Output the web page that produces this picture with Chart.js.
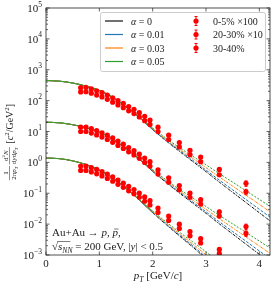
<!DOCTYPE html>
<html>
<head>
<meta charset="utf-8">
<script src="https://cdn.jsdelivr.net/npm/chart.js@4"></script>
<style>
  html, body { margin: 0; padding: 0; background: #fff; }
</style>
</head>
<body>
<canvas id="c" width="274" height="287"></canvas>
<script>
// Curvas del modelo (pT en GeV/c)
const ptGrid = [0, 0.25, 0.5, 0.75, 1, 1.25, 1.5, 1.75, 2, 2.25, 2.5, 2.75, 3, 3.25, 3.5, 3.75, 4, 4.25];

// 0-5% x100
const c05a0 = [447, 427, 372, 295, 214, 129, 63.1, 28.2, 11.5, 5.01, 2.29, 1.07, 0.501, 0.229, 0.107, 0.0501, 0.0234, 0.0110];
const c05a1 = [447, 427, 372, 295, 214, 129, 63.1, 28.2, 11.7, 5.25, 2.45, 1.17, 0.562, 0.266, 0.129, 0.0624, 0.0302, 0.0146];
const c05a3 = [447, 427, 372, 295, 214, 129, 63.1, 28.8, 12.3, 5.62, 2.69, 1.35, 0.676, 0.335, 0.170, 0.0861, 0.0437, 0.0219];
const c05a5 = [447, 427, 372, 295, 214, 129, 63.1, 29.2, 12.9, 6.10, 3.02, 1.58, 0.832, 0.432, 0.229, 0.120, 0.0631, 0.0331];

// 20-30% x10
const c2030a0 = [20.0, 19.1, 16.6, 13.2, 9.55, 5.75, 2.82, 1.26, 0.513, 0.224, 0.102, 0.0479, 0.0224, 0.0102, 0.00479, 0.00224, 0.00105, 0.00049];
const c2030a1 = [20.0, 19.1, 16.6, 13.2, 9.55, 5.75, 2.82, 1.26, 0.525, 0.234, 0.110, 0.0525, 0.0251, 0.0119, 0.00575, 0.00279, 0.00135, 0.000653];
const c2030a3 = [20.0, 19.1, 16.6, 13.2, 9.55, 5.75, 2.82, 1.29, 0.550, 0.251, 0.120, 0.0603, 0.0302, 0.0150, 0.00759, 0.00385, 0.00195, 0.000977];
const c2030a5 = [20.0, 19.1, 16.6, 13.2, 9.55, 5.75, 2.82, 1.30, 0.575, 0.272, 0.135, 0.0708, 0.0372, 0.0193, 0.0102, 0.00537, 0.00282, 0.00148];

// 30-40%
const c3040a0 = [1.38, 1.32, 1.12, 0.851, 0.562, 0.316, 0.145, 0.0603, 0.0234, 0.00977, 0.00417, 0.00182, 0.000759, 0.000331];
const c3040a1 = [1.38, 1.32, 1.12, 0.851, 0.562, 0.316, 0.145, 0.0603, 0.0240, 0.0102, 0.00447, 0.00200, 0.000851, 0.000385];
const c3040a3 = [1.38, 1.32, 1.12, 0.851, 0.562, 0.316, 0.145, 0.0617, 0.0251, 0.0110, 0.00490, 0.00229, 0.00102, 0.000484];
const c3040a5 = [1.38, 1.32, 1.12, 0.851, 0.562, 0.316, 0.145, 0.0624, 0.0263, 0.0119, 0.00550, 0.00269, 0.00126, 0.000624];

// Datos experimentales (p y pbar)
const ptData = [0.65, 0.75, 0.85, 0.95, 1.05, 1.15, 1.25, 1.35, 1.45, 1.55, 1.65, 1.75, 1.85, 1.95, 2.1, 2.3, 2.5, 2.7, 2.9, 3.25, 3.75];
const p05 = [263, 269, 240, 209, 182, 151, 123, 100, 81.3, 64.6, 52.5, 40.7, 30.9, 23.4, 13.8, 7.59, 4.37, 2.45, 1.48, 0.589, 0.209];
const pbar05 = [191, 195, 174, 151, 132, 110, 89.1, 72.4, 58.9, 46.8, 38.0, 29.5, 22.4, 17.0, 10.0, 5.50, 3.16, 1.78, 1.05, 0.398, 0.112];
const p2030 = [13.8, 13.8, 12.3, 10.7, 9.12, 7.59, 6.17, 4.90, 3.89, 3.02, 2.40, 1.86, 1.38, 1.05, 0.575, 0.316, 0.178, 0.102, 0.0617, 0.0251, 0.00832];
const pbar2030 = [10.0, 10.0, 8.91, 7.76, 6.61, 5.50, 4.47, 3.55, 2.82, 2.19, 1.74, 1.35, 1.00, 0.759, 0.417, 0.229, 0.129, 0.0741, 0.0447, 0.0182, 0.00501];
const p3040 = [0.759, 0.759, 0.676, 0.589, 0.501, 0.417, 0.339, 0.269, 0.214, 0.166, 0.132, 0.102, 0.0759, 0.0575, 0.0331, 0.0182, 0.0100, 0.00575, 0.00339, 0.00151, null];
const pbar3040 = [0.550, 0.550, 0.490, 0.427, 0.363, 0.302, 0.245, 0.195, 0.155, 0.120, 0.0955, 0.0741, 0.0550, 0.0417, 0.0240, 0.0132, 0.00724, 0.00417, 0.00245, 0.00110, null];
const relErr = [0.05, 0.05, 0.05, 0.05, 0.05, 0.05, 0.05, 0.05, 0.05, 0.05, 0.05, 0.05, 0.06, 0.06, 0.07, 0.08, 0.08, 0.09, 0.10, 0.12, 0.20];

// Ejes
const xTicks = [0, 1, 2, 3, 4];
const yDecades = [-3, -2, -1, 0, 1, 2, 3, 4, 5];

const alphaLabels = ['0', '0.01', '0.03', '0.05'];
const alphaColors = ['#111111', '#1f77b4', '#ff7f0e', '#2ca02c'];
const alphaDash = [[3, 1, 1, 1], [3, 1.5], [3, 1, 1, 1], [2, 1.5]];
const fitMax = 2.0;
const dataLabels = ['0-5% \u00d7100', '20-30% \u00d710', '30-40%'];

const serif = '"Liberation Serif", "DejaVu Serif", serif';
const ink = '#222';

const curveGroups = [
  [c05a0, c05a1, c05a3, c05a5],
  [c2030a0, c2030a1, c2030a3, c2030a5],
  [c3040a0, c3040a1, c3040a3, c3040a5]
];

const datasets = [];
curveGroups.forEach(group => {
  group.forEach((arr, k) => {
    datasets.push({
      type: 'line',
      data: arr.map((v, i) => ({ x: ptGrid[i], y: v })),
      borderColor: alphaColors[k],
      borderWidth: 1,
      pointRadius: 0,
      fill: false,
      cubicInterpolationMode: 'monotone',
      segment: { borderDash: c => (c.p0.parsed.x >= fitMax ? alphaDash[k] : undefined) },
      order: 4 - k
    });
  });
});
[p05, pbar05, p2030, pbar2030, p3040, pbar3040].forEach(arr => {
  datasets.push({
    type: 'scatter',
    data: arr.map((v, i) => ({ x: ptData[i], y: v })),
    err: relErr,
    backgroundColor: 'red',
    borderWidth: 0,
    pointRadius: 2.6,
    order: 0
  });
});

// Texto con cursiva / subíndices / superíndices
function runs(ctx, items, x, y, size, draw = true) {
  let cx = x;
  for (const it of items) {
    let fs = size, dy = 0;
    const st = (it.f === 'i' || it.f === 'sub') ? 'italic ' : '';
    if (it.f === 'sub') { fs = size * 0.7; dy = size * 0.25; }
    if (it.f === 'sup') { fs = size * 0.7; dy = -size * 0.4; }
    ctx.font = st + fs + 'px ' + serif;
    if (draw) ctx.fillText(it.t, cx, y + dy);
    cx += ctx.measureText(it.t).width;
  }
  return cx - x;
}

function fraction(ctx, num, den, x, size) {
  const wn = runs(ctx, num, 0, 0, size, false);
  const wd = runs(ctx, den, 0, 0, size, false);
  const w = Math.max(wn, wd) + 1;
  runs(ctx, num, x + (w - wn) / 2, -1.3, size);
  runs(ctx, den, x + (w - wd) / 2, size * 0.72 + 1.3, size);
  ctx.lineWidth = 0.5;
  ctx.beginPath(); ctx.moveTo(x, 0); ctx.lineTo(x + w, 0); ctx.stroke();
  return w;
}

const decor = {
  id: 'decor',
  afterDatasetsDraw(chart) {
    const { ctx, chartArea: a, scales: { y } } = chart;
    ctx.save();
    ctx.beginPath(); ctx.rect(a.left, a.top, a.right - a.left, a.bottom - a.top); ctx.clip();
    ctx.strokeStyle = 'red'; ctx.lineWidth = 1;
    chart.data.datasets.forEach((ds, i) => {
      if (!ds.err) return;
      const meta = chart.getDatasetMeta(i);
      meta.data.forEach((pt, j) => {
        const v = ds.data[j].y;
        if (v == null) return;
        const y1 = y.getPixelForValue(v * (1 + ds.err[j]));
        const y2 = y.getPixelForValue(v * (1 - ds.err[j]));
        ctx.beginPath();
        ctx.moveTo(pt.x, y1); ctx.lineTo(pt.x, y2);
        ctx.moveTo(pt.x - 1.5, y1); ctx.lineTo(pt.x + 1.5, y1);
        ctx.moveTo(pt.x - 1.5, y2); ctx.lineTo(pt.x + 1.5, y2);
        ctx.stroke();
      });
    });
    ctx.restore();
  },
  afterDraw(chart) {
    const { ctx, chartArea: a, scales: { x, y } } = chart;
    ctx.save();
    ctx.fillStyle = ink; ctx.strokeStyle = ink;

    // marco
    ctx.lineWidth = 0.8;
    ctx.strokeRect(a.left, a.top, a.right - a.left, a.bottom - a.top);

    // marcas hacia dentro
    ctx.lineWidth = 0.7;
    ctx.beginPath();
    xTicks.forEach(v => {
      const px = x.getPixelForValue(v);
      ctx.moveTo(px, a.bottom); ctx.lineTo(px, a.bottom - 3.5);
      ctx.moveTo(px, a.top); ctx.lineTo(px, a.top + 3.5);
    });
    yDecades.forEach(k => {
      const py = y.getPixelForValue(Math.pow(10, k));
      ctx.moveTo(a.left, py); ctx.lineTo(a.left + 3.5, py);
      ctx.moveTo(a.right, py); ctx.lineTo(a.right - 3.5, py);
      if (k < 5) {
        for (let m = 2; m < 10; m++) {
          const pm = y.getPixelForValue(m * Math.pow(10, k));
          ctx.moveTo(a.left, pm); ctx.lineTo(a.left + 2, pm);
          ctx.moveTo(a.right, pm); ctx.lineTo(a.right - 2, pm);
        }
      }
    });
    ctx.stroke();

    // etiquetas de los ejes
    ctx.textAlign = 'left';
    yDecades.forEach(k => {
      const py = y.getPixelForValue(Math.pow(10, k));
      const exp = k < 0 ? '\u2212' + (-k) : String(k);
      ctx.font = '7.5px ' + serif;
      const we = ctx.measureText(exp).width;
      ctx.font = '11px ' + serif;
      const wb = ctx.measureText('10').width;
      const x0 = a.left - 4 - we - wb;
      ctx.fillText('10', x0, py + 4);
      ctx.font = '7.5px ' + serif;
      ctx.fillText(exp, x0 + wb, py - 1.5);
    });
    ctx.font = '11px ' + serif;
    ctx.textAlign = 'center';
    xTicks.forEach(v => ctx.fillText(String(v), x.getPixelForValue(v), a.bottom + 12));
    ctx.textAlign = 'left';

    // titulo eje x
    const xt = [{ t: 'p', f: 'i' }, { t: 'T', f: 'sub' }, { t: ' [GeV/', f: 'n' }, { t: 'c', f: 'i' }, { t: ']', f: 'n' }];
    const wxt = runs(ctx, xt, 0, 0, 11, false);
    runs(ctx, xt, (a.left + a.right) / 2 - wxt / 2, 279, 11);

    // titulo eje y (girado)
    ctx.save();
    ctx.translate(9.5, 142);
    ctx.rotate(-Math.PI / 2);
    const fs = 7;
    const f1n = [{ t: '1', f: 'n' }];
    const f1d = [{ t: '2\u03c0', f: 'n' }, { t: 'p', f: 'i' }, { t: 'T', f: 'sub' }];
    const f2n = [{ t: 'd', f: 'n' }, { t: '2', f: 'sup' }, { t: 'N', f: 'i' }];
    const f2d = [{ t: 'd', f: 'n' }, { t: 'y', f: 'i' }, { t: 'd', f: 'n' }, { t: 'p', f: 'i' }, { t: 'T', f: 'sub' }];
    const br = [{ t: '[', f: 'n' }, { t: 'c', f: 'i' }, { t: '2', f: 'sup' }, { t: '/GeV', f: 'n' }, { t: '2', f: 'sup' }, { t: ']', f: 'n' }];
    const w1 = Math.max(runs(ctx, f1n, 0, 0, fs, false), runs(ctx, f1d, 0, 0, fs, false)) + 1;
    const w2 = Math.max(runs(ctx, f2n, 0, 0, fs, false), runs(ctx, f2d, 0, 0, fs, false)) + 1;
    const w3 = runs(ctx, br, 0, 0, 10, false);
    let rx = -(w1 + w2 + w3 + 5) / 2;
    rx += fraction(ctx, f1n, f1d, rx, fs) + 1.5;
    rx += fraction(ctx, f2n, f2d, rx, fs) + 3.5;
    runs(ctx, br, rx, 3.3, 10);
    ctx.restore();

    // anotacion
    ctx.lineWidth = 0.6;
    let tx = 52;
    tx += runs(ctx, [{ t: 'Au+Au \u2192 ', f: 'n' }, { t: 'p', f: 'i' }, { t: ', ', f: 'n' }], tx, 236, 11);
    const wp = runs(ctx, [{ t: 'p', f: 'i' }], tx, 236, 11);
    ctx.beginPath(); ctx.moveTo(tx + 1.5, 229); ctx.lineTo(tx + wp + 0.5, 229); ctx.stroke();
    tx += wp;
    runs(ctx, [{ t: ',', f: 'n' }], tx, 236, 11);

    tx = 52;
    tx += runs(ctx, [{ t: '\u221a', f: 'n' }], tx, 250, 11);
    const ws = runs(ctx, [{ t: 's', f: 'i' }], tx, 250, 11);
    ctx.beginPath(); ctx.moveTo(tx - 0.5, 241.5); ctx.lineTo(tx + ws + 8, 241.5); ctx.stroke();
    tx += ws;
    tx += runs(ctx, [{ t: 'NN', f: 'sub' }], tx, 250, 11);
    runs(ctx, [{ t: ' = 200 GeV, |', f: 'n' }, { t: 'y', f: 'i' }, { t: '| < 0.5', f: 'n' }], tx, 250, 11);

    // leyenda
    ctx.fillStyle = 'rgba(255,255,255,0.85)';
    ctx.strokeStyle = '#cccccc'; ctx.lineWidth = 1;
    ctx.beginPath(); ctx.roundRect(100.5, 12.5, 165, 59, 2); ctx.fill(); ctx.stroke();
    const rowY = [21, 34.5, 48, 61.5];
    alphaLabels.forEach((lab, k) => {
      ctx.strokeStyle = alphaColors[k]; ctx.lineWidth = 1.2;
      ctx.beginPath(); ctx.moveTo(105, rowY[k]); ctx.lineTo(123, rowY[k]); ctx.stroke();
      ctx.fillStyle = ink;
      runs(ctx, [{ t: '\u03b1', f: 'i' }, { t: ' = ' + lab, f: 'n' }], 131, rowY[k] + 3.5, 10);
    });
    dataLabels.forEach((lab, k) => {
      const cy = rowY[k], cx = 196;
      ctx.strokeStyle = 'red'; ctx.fillStyle = 'red'; ctx.lineWidth = 1;
      ctx.beginPath();
      ctx.moveTo(cx, cy - 4.5); ctx.lineTo(cx, cy + 4.5);
      ctx.moveTo(cx - 1.5, cy - 4.5); ctx.lineTo(cx + 1.5, cy - 4.5);
      ctx.moveTo(cx - 1.5, cy + 4.5); ctx.lineTo(cx + 1.5, cy + 4.5);
      ctx.stroke();
      ctx.beginPath(); ctx.arc(cx, cy, 2.6, 0, Math.PI * 2); ctx.fill();
      ctx.fillStyle = ink;
      ctx.font = '10px ' + serif;
      ctx.fillText(lab, 213, cy + 3.5);
    });
    ctx.restore();
  }
};

const chart = new Chart(document.getElementById('c'), {
  type: 'scatter',
  data: { datasets },
  options: {
    responsive: false,
    animation: false,
    devicePixelRatio: 1,
    layout: { padding: { top: 8, right: 4, left: 0, bottom: 0 } },
    plugins: { legend: { display: false }, tooltip: { enabled: false } },
    scales: {
      x: {
        type: 'linear', min: 0, max: 4.2,
        grid: { display: false }, border: { display: false }, ticks: { display: false },
        afterBuildTicks(s) { s.ticks = xTicks.map(v => ({ value: v })); },
        afterFit(s) { s.height = 32; }
      },
      y: {
        type: 'logarithmic', min: 1e-3, max: 1e5,
        grid: { display: false }, border: { display: false }, ticks: { display: false },
        afterFit(s) { s.width = 46; }
      }
    }
  },
  plugins: [decor]
});
</script>
</body>
</html>
